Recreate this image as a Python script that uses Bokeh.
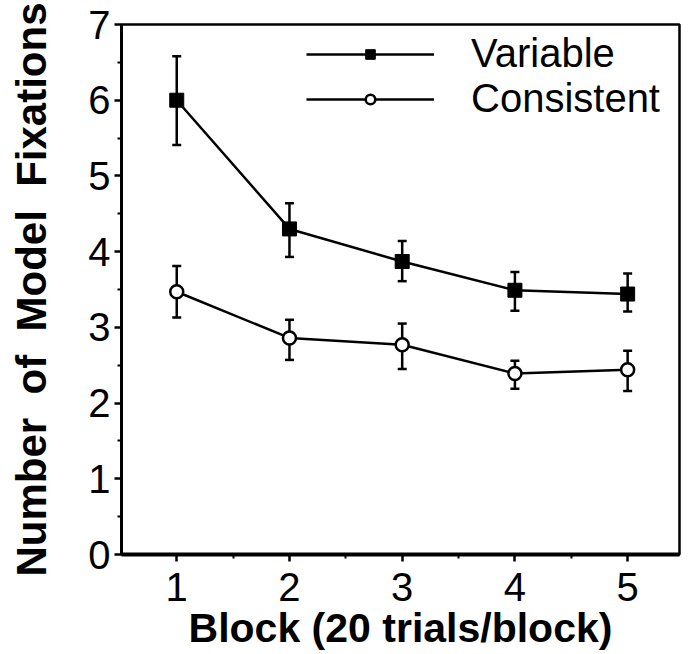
from bokeh.plotting import figure
from bokeh.models import (ColumnDataSource, Whisker, TeeHead, Legend, LegendItem,
                          FixedTicker, Range1d)
from bokeh.embed import file_html
from bokeh.resources import INLINE

blocks = [1, 2, 3, 4, 5]
variable_mean = [6.00, 4.30, 3.87, 3.49, 3.44]
variable_upper = [6.58, 4.64, 4.14, 3.73, 3.71]
variable_lower = [5.41, 3.93, 3.61, 3.22, 3.21]
consistent_mean = [3.47, 2.86, 2.77, 2.39, 2.44]
consistent_upper = [3.81, 3.10, 3.05, 2.56, 2.69]
consistent_lower = [3.13, 2.57, 2.45, 2.19, 2.16]

y_ticks = [0, 1, 2, 3, 4, 5, 6, 7]
y_minor = [0.5, 1.5, 2.5, 3.5, 4.5, 5.5, 6.5]
x_ticks = [1, 2, 3, 4, 5]
x_minor = [1.5, 2.5, 3.5, 4.5]

x_title = "Block (20 trials/block)"
y_title = "Number\u00a0 of\u00a0 Model\u00a0 Fixations"

FONT = "Liberation Sans"

p = figure(width=690, height=654, output_backend="svg", toolbar_location=None,
           x_range=Range1d(0.51, 5.46), y_range=Range1d(0, 7),
           min_border_left=121, min_border_right=11, min_border_top=24,
           min_border_bottom=100)
p.background_fill_color = "white"
p.border_fill_color = "white"
p.outline_line_color = "black"
p.outline_line_width = 2.5
p.xgrid.visible = False
p.ygrid.visible = False

src_v = ColumnDataSource(dict(x=blocks, y=variable_mean, up=variable_upper, lo=variable_lower))
src_c = ColumnDataSource(dict(x=blocks, y=consistent_mean, up=consistent_upper, lo=consistent_lower))

for src in (src_v, src_c):
    w = Whisker(base="x", upper="up", lower="lo", source=src,
                line_color="black", line_width=2.5,
                upper_head=TeeHead(size=9, line_width=2.5, line_color="black"),
                lower_head=TeeHead(size=9, line_width=2.5, line_color="black"))
    p.add_layout(w)

lv = p.line("x", "y", source=src_v, line_color="black", line_width=2.5)
mv = p.scatter("x", "y", source=src_v, marker="square", size=14,
               fill_color="black", line_color="black")
lc = p.line("x", "y", source=src_c, line_color="black", line_width=2.5)
mc = p.scatter("x", "y", source=src_c, marker="circle", size=13,
               fill_color="white", line_color="black", line_width=2.5)

legend = Legend(items=[LegendItem(label="Variable", renderers=[lv, mv]),
                       LegendItem(label="Consistent", renderers=[lc, mc])],
                location=(185, 433), padding=0, spacing=0,
                glyph_width=128, glyph_height=24, label_height=40,
                label_standoff=37, border_line_color=None,
                background_fill_alpha=0,
                label_text_font=FONT, label_text_font_size="40px",
                label_text_color="black")
p.add_layout(legend, "center")

p.xaxis.ticker = FixedTicker(ticks=x_ticks, minor_ticks=x_minor)
p.yaxis.ticker = FixedTicker(ticks=y_ticks, minor_ticks=y_minor)

for ax in (p.xaxis, p.yaxis):
    ax.axis_line_width = 3
    ax.axis_line_color = "black"
    ax.major_tick_line_width = 2.5
    ax.minor_tick_line_width = 2
    ax.major_tick_in = 0
    ax.major_tick_out = 7
    ax.minor_tick_in = 0
    ax.minor_tick_out = 4
    ax.major_label_text_font = FONT
    ax.major_label_text_font_size = "40px"
    ax.major_label_text_color = "black"
    ax.axis_label_text_font = FONT
    ax.axis_label_text_font_style = "bold"
    ax.axis_label_text_color = "black"

p.xaxis.axis_line_width = 4
p.xaxis.major_label_standoff = 11
p.yaxis.major_label_standoff = 4
p.xaxis.axis_label = x_title
p.xaxis.axis_label_text_font_size = "41px"
p.xaxis.axis_label_standoff = 1

p.yaxis.axis_label = y_title
p.yaxis.axis_label_text_font_size = "42px"
p.yaxis.axis_label_standoff = 30

open("out.html", "w").write(file_html(p, INLINE))
